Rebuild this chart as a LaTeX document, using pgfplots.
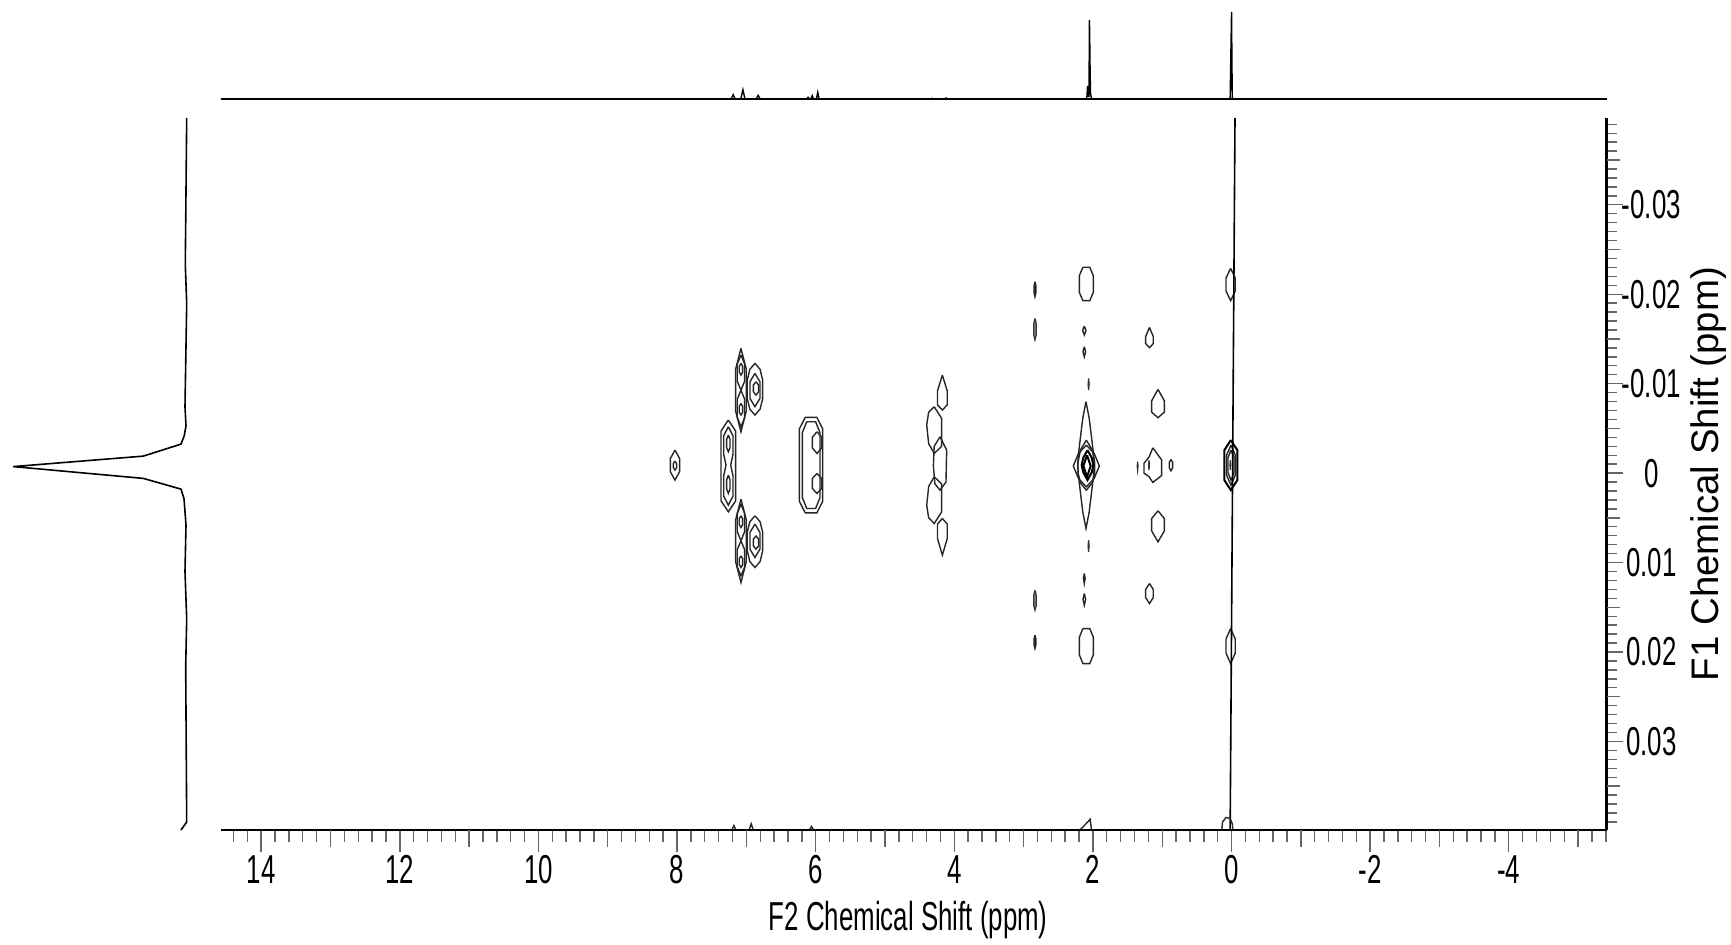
\documentclass[border=0pt]{standalone}
\usepackage{fontspec}
\setmainfont{Liberation Sans}
\newfontfamily\condfont[FakeStretch=0.64]{Liberation Sans}
\usepackage{pgfplots}
\pgfplotsset{compat=1.18}
\pgfplotsset{cont/.style={black!85, line width=0.35pt, mark=none},
  contb/.style={black, line width=0.5pt, mark=none},
  contf/.style={black!80, fill=black!45, line width=0.3pt, mark=none}}
\begin{document}
\begin{tikzpicture}
\path[use as bounding box] (0,0) rectangle (432.75pt,236pt);

% ---------------- main 2D contour data ----------------
\begin{axis}[at={(228.4375pt,117.5pt)}, anchor=center, scale only axis,
  width=346.375pt, height=178pt,
  xmin=-5.41, xmax=14.58, ymin=-0.0397, ymax=0.0399,
  x dir=reverse, y dir=reverse, hide axis, no markers]
% 8.03 ppm
\addplot[cont] coordinates {(8.030,-0.00257) (8.097,-0.00163) (8.097,-0.00016) (8.030,0.00078) (7.963,-0.00016) (7.963,-0.00163) (8.030,-0.00257)};
\addplot[cont] coordinates {(8.030,-0.00134) (8.054,-0.00106) (8.054,-0.00062) (8.030,-0.00034) (8.006,-0.00062) (8.006,-0.00106) (8.030,-0.00134)};
% 7.08 ppm upper
\addplot[cont] coordinates {(7.078,-0.01395) (7.155,-0.01161) (7.155,-0.00695) (7.078,-0.00462) (7.001,-0.00695) (7.001,-0.01161) (7.078,-0.01395)};
\addplot[cont] coordinates {(7.078,-0.01320) (7.131,-0.01222) (7.131,-0.01026) (7.078,-0.00928) (7.025,-0.01026) (7.025,-0.01222) (7.078,-0.01320)};
\addplot[cont] coordinates {(7.078,-0.00928) (7.131,-0.00826) (7.131,-0.00621) (7.078,-0.00518) (7.025,-0.00621) (7.025,-0.00826) (7.078,-0.00928)};
\addplot[cont] coordinates {(7.078,-0.01227) (7.102,-0.01194) (7.102,-0.01129) (7.078,-0.01096) (7.054,-0.01129) (7.054,-0.01194) (7.078,-0.01227)};
\addplot[cont] coordinates {(7.078,-0.00779) (7.102,-0.00747) (7.102,-0.00681) (7.078,-0.00649) (7.054,-0.00681) (7.054,-0.00747) (7.078,-0.00779)};
% 7.08 ppm lower
\addplot[cont] coordinates {(7.078,0.00291) (7.155,0.00524) (7.155,0.00990) (7.078,0.01223) (7.001,0.00990) (7.001,0.00524) (7.078,0.00291)};
\addplot[cont] coordinates {(7.078,0.00347) (7.131,0.00449) (7.131,0.00654) (7.078,0.00757) (7.025,0.00654) (7.025,0.00449) (7.078,0.00347)};
\addplot[cont] coordinates {(7.078,0.00757) (7.131,0.00855) (7.131,0.01050) (7.078,0.01148) (7.025,0.01050) (7.025,0.00855) (7.078,0.00757)};
\addplot[cont] coordinates {(7.078,0.00477) (7.102,0.00510) (7.102,0.00575) (7.078,0.00608) (7.054,0.00575) (7.054,0.00510) (7.078,0.00477)};
\addplot[cont] coordinates {(7.078,0.00925) (7.102,0.00957) (7.102,0.01023) (7.078,0.01055) (7.054,0.01023) (7.054,0.00957) (7.078,0.00925)};
% 6.88 ppm upper
\addplot[cont] coordinates {(6.876,-0.01227) (6.950,-0.01160) (6.987,-0.01040) (6.987,-0.00830) (6.950,-0.00715) (6.876,-0.00649) (6.802,-0.00715) (6.765,-0.00830) (6.765,-0.01040) (6.802,-0.01160) (6.876,-0.01227)};
\addplot[cont] coordinates {(6.876,-0.01115) (6.948,-0.01022) (6.948,-0.00835) (6.876,-0.00742) (6.804,-0.00835) (6.804,-0.01022) (6.876,-0.01115)};
\addplot[cont] coordinates {(6.861,-0.01022) (6.899,-0.00984) (6.899,-0.00910) (6.861,-0.00873) (6.823,-0.00910) (6.823,-0.00984) (6.861,-0.01022)};
% 6.88 ppm lower
\addplot[cont] coordinates {(6.876,0.00477) (6.950,0.00544) (6.987,0.00659) (6.987,0.00869) (6.950,0.00989) (6.876,0.01055) (6.802,0.00989) (6.765,0.00869) (6.765,0.00659) (6.802,0.00544) (6.876,0.00477)};
\addplot[cont] coordinates {(6.876,0.00570) (6.948,0.00664) (6.948,0.00850) (6.876,0.00943) (6.804,0.00850) (6.804,0.00664) (6.876,0.00570)};
\addplot[cont] coordinates {(6.861,0.00701) (6.899,0.00738) (6.899,0.00813) (6.861,0.00850) (6.823,0.00813) (6.823,0.00738) (6.861,0.00701)};
% 7.26 ppm capsule
\addplot[cont] coordinates {(7.260,-0.00593) (7.366,-0.00470) (7.366,0.00310) (7.260,0.00433) (7.154,0.00310) (7.154,-0.00470) (7.260,-0.00593)};
\addplot[cont] coordinates {(7.260,-0.00518) (7.327,-0.00418) (7.327,-0.00210) (7.294,-0.00090) (7.327,0.00031) (7.327,0.00258) (7.260,0.00358) (7.193,0.00258) (7.193,0.00031) (7.226,-0.00090) (7.193,-0.00210) (7.193,-0.00418) (7.260,-0.00518)};
\addplot[cont] coordinates {(7.260,-0.00425) (7.284,-0.00379) (7.284,-0.00285) (7.260,-0.00239) (7.236,-0.00285) (7.236,-0.00379) (7.260,-0.00425)};
\addplot[cont] coordinates {(7.260,0.00022) (7.284,0.00074) (7.284,0.00176) (7.260,0.00227) (7.236,0.00176) (7.236,0.00074) (7.260,0.00022)};
% 6.07 ppm capsule
\addplot[cont] coordinates {(6.151,-0.00623) (5.983,-0.00623) (5.899,-0.00495) (5.899,0.00316) (5.983,0.00444) (6.151,0.00444) (6.235,0.00316) (6.235,-0.00495) (6.151,-0.00623)};
\addplot[cont] coordinates {(6.129,-0.00574) (6.001,-0.00574) (5.938,-0.00454) (5.938,0.00275) (6.001,0.00395) (6.129,0.00395) (6.192,0.00275) (6.192,-0.00454) (6.129,-0.00574)};
\addplot[cont] coordinates {(5.981,-0.00462) (5.914,-0.00402) (5.914,-0.00281) (5.981,-0.00220) (6.048,-0.00281) (6.048,-0.00402) (5.981,-0.00462)};
\addplot[cont] coordinates {(5.981,0.00004) (5.914,0.00060) (5.914,0.00172) (5.981,0.00227) (6.048,0.00172) (6.048,0.00060) (5.981,0.00004)};
% 4.2 ppm chain
\addplot[cont] coordinates {(4.172,-0.01096) (4.102,-0.00920) (4.102,-0.00763) (4.172,-0.00705) (4.242,-0.00763) (4.242,-0.00920) (4.172,-0.01096)};
\addplot[cont] coordinates {(4.290,-0.00742) (4.370,-0.00680) (4.398,-0.00540) (4.370,-0.00330) (4.290,-0.00220) (4.182,-0.00300) (4.182,-0.00612) (4.290,-0.00742)};
\addplot[cont] coordinates {(4.206,-0.00406) (4.290,-0.00300) (4.302,-0.00080) (4.280,0.00120) (4.206,0.00190) (4.120,0.00100) (4.110,-0.00257) (4.206,-0.00406)};
\addplot[cont] coordinates {(4.290,0.00041) (4.370,0.00150) (4.398,0.00360) (4.370,0.00500) (4.290,0.00563) (4.182,0.00433) (4.182,0.00121) (4.290,0.00041)};
\addplot[cont] coordinates {(4.172,0.00507) (4.102,0.00569) (4.102,0.00733) (4.172,0.00917) (4.242,0.00733) (4.242,0.00569) (4.172,0.00507)};
% 2.84 ppm dashes
\addplot[cont] coordinates {(2.836,-0.02140) (2.848,-0.02098) (2.848,-0.02014) (2.836,-0.01972) (2.824,-0.02014) (2.824,-0.02098) (2.836,-0.02140)};
\addplot[contf] coordinates {(2.836,-0.01730) (2.855,-0.01669) (2.855,-0.01548) (2.836,-0.01488) (2.817,-0.01548) (2.817,-0.01669) (2.836,-0.01730)};
\addplot[contf] coordinates {(2.836,0.01309) (2.855,0.01365) (2.855,0.01477) (2.836,0.01533) (2.817,0.01477) (2.817,0.01365) (2.836,0.01309)};
\addplot[cont] coordinates {(2.836,0.01812) (2.848,0.01849) (2.848,0.01924) (2.836,0.01961) (2.824,0.01924) (2.824,0.01849) (2.836,0.01812)};
% 2.1 ppm column
\addplot[cont] coordinates {(2.145,-0.02301) (2.045,-0.02301) (1.994,-0.02207) (1.994,-0.02021) (2.045,-0.01928) (2.145,-0.01928) (2.196,-0.02021) (2.196,-0.02207) (2.145,-0.02301)};
\addplot[cont] coordinates {(2.124,-0.01644) (2.148,-0.01594) (2.124,-0.01544) (2.100,-0.01594) (2.124,-0.01644)};
\addplot[cont] coordinates {(2.124,-0.01413) (2.143,-0.01357) (2.124,-0.01301) (2.105,-0.01357) (2.124,-0.01413)};
\addplot[contf] coordinates {(2.062,-0.01059) (2.070,-0.00994) (2.062,-0.00928) (2.054,-0.00994) (2.062,-0.01059)};
\addplot[cont] coordinates {(2.100,-0.00798) (2.145,-0.00620) (2.180,-0.00400) (2.210,-0.00200) (2.220,-0.00090) (2.210,0.00020) (2.180,0.00220) (2.145,0.00440) (2.100,0.00619) (2.055,0.00440) (2.020,0.00220) (1.990,0.00020) (1.980,-0.00090) (1.990,-0.00200) (2.020,-0.00400) (2.055,-0.00620) (2.100,-0.00798)};
\addplot[cont] coordinates {(2.095,-0.00313) (2.208,-0.00220) (2.283,-0.00080) (2.208,0.00060) (2.095,0.00153) (1.982,0.00060) (1.907,-0.00080) (1.982,-0.00220) (2.095,-0.00313)};
\addplot[cont] coordinates {(2.095,-0.00369) (2.180,-0.00260) (2.215,-0.00120) (2.215,0.00000) (2.180,0.00110) (2.095,0.00190) (2.010,0.00110) (1.975,0.00000) (1.975,-0.00120) (2.010,-0.00260) (2.095,-0.00369)};
\addplot[contb] coordinates {(2.078,-0.00257) (2.140,-0.00170) (2.162,-0.00090) (2.140,-0.00010) (2.078,0.00078) (2.016,-0.00010) (1.994,-0.00090) (2.016,-0.00170) (2.078,-0.00257)};
\addplot[contb] coordinates {(2.085,-0.00201) (2.138,-0.00080) (2.085,0.00041) (2.032,-0.00080) (2.085,-0.00201)};
\addplot[contf] coordinates {(2.062,0.00749) (2.070,0.00815) (2.062,0.00880) (2.054,0.00815) (2.062,0.00749)};
\addplot[cont] coordinates {(2.124,0.01122) (2.136,0.01178) (2.124,0.01234) (2.112,0.01178) (2.124,0.01122)};
\addplot[cont] coordinates {(2.124,0.01346) (2.143,0.01411) (2.124,0.01477) (2.105,0.01411) (2.124,0.01346)};
\addplot[cont] coordinates {(2.145,0.01738) (2.045,0.01738) (1.994,0.01835) (1.994,0.02031) (2.045,0.02129) (2.145,0.02129) (2.196,0.02031) (2.196,0.01835) (2.145,0.01738)};
% 1.1 ppm column
\addplot[cont] coordinates {(1.184,-0.01629) (1.239,-0.01527) (1.239,-0.01448) (1.184,-0.01402) (1.129,-0.01448) (1.129,-0.01527) (1.184,-0.01629)};
\addplot[cont] coordinates {(1.061,-0.00936) (1.152,-0.00809) (1.152,-0.00682) (1.061,-0.00619) (0.970,-0.00682) (0.970,-0.00809) (1.061,-0.00936)};
\addplot[cont] coordinates {(1.136,-0.00283) (1.190,-0.00180) (1.263,-0.00110) (1.263,0.00000) (1.190,0.00040) (1.136,0.00104) (1.009,0.00027) (1.009,-0.00148) (1.136,-0.00283)};
\addplot[contf] coordinates {(1.191,-0.00145) (1.197,-0.00090) (1.191,-0.00034) (1.185,-0.00090) (1.191,-0.00145)};
\addplot[contf] coordinates {(1.355,-0.00127) (1.361,-0.00080) (1.355,-0.00034) (1.349,-0.00080) (1.355,-0.00127)};
\addplot[cont] coordinates {(0.874,-0.00153) (0.898,-0.00121) (0.898,-0.00058) (0.874,-0.00026) (0.850,-0.00058) (0.850,-0.00121) (0.874,-0.00153)};
\addplot[cont] coordinates {(1.061,0.00421) (1.152,0.00508) (1.152,0.00647) (1.061,0.00768) (0.970,0.00647) (0.970,0.00508) (1.061,0.00421)};
\addplot[cont] coordinates {(1.184,0.01234) (1.239,0.01301) (1.239,0.01391) (1.184,0.01458) (1.129,0.01391) (1.129,0.01301) (1.184,0.01234)};
% 0 ppm column
\addplot[cont] coordinates {(0.013,-0.02289) (0.080,-0.02181) (0.080,-0.02036) (0.013,-0.01928) (-0.054,-0.02036) (-0.054,-0.02181) (0.013,-0.02289)};
\addplot[contb] coordinates {(0.010,-0.00369) (0.104,-0.00257) (0.104,0.00078) (0.010,0.00190) (-0.084,0.00078) (-0.084,-0.00257) (0.010,-0.00369)};
\addplot[cont] coordinates {(0.008,-0.00313) (0.071,-0.00201) (0.071,0.00022) (0.008,0.00134) (-0.055,0.00022) (-0.055,-0.00201) (0.008,-0.00313)};
\addplot[cont] coordinates {(0.008,-0.00257) (0.051,-0.00173) (0.051,-0.00006) (0.008,0.00078) (-0.035,-0.00006) (-0.035,-0.00173) (0.008,-0.00257)};
\addplot[contf] coordinates {(0.017,-0.00145) (0.023,-0.00090) (0.017,-0.00034) (0.011,-0.00090) (0.017,-0.00145)};
\addplot[cont] coordinates {(0.013,0.01738) (0.080,0.01855) (0.080,0.02012) (0.013,0.02129) (-0.054,0.02012) (-0.054,0.01855) (0.013,0.01738)};
% t1 ridge at 0 ppm
\addplot[black, line width=0.4pt] coordinates {(-0.050,-0.0397) (0.020,0.0399)};
% contours cut by the lower edge
\addplot[cont] coordinates {(7.21,0.0399) (7.18,0.0394) (7.15,0.0399)};
\addplot[cont] coordinates {(6.96,0.0399) (6.93,0.0392) (6.90,0.0399)};
\addplot[cont] coordinates {(6.09,0.0399) (6.06,0.0395) (6.03,0.0399)};
\addplot[cont] coordinates {(2.19,0.0399) (2.10,0.0392) (2.04,0.0387) (2.02,0.0399)};
\addplot[cont] coordinates {(0.14,0.0399) (0.13,0.0390) (0.08,0.0385) (0.02,0.0386) (-0.01,0.0392) (-0.02,0.0399)};
\end{axis}

% ---------------- x axis (F2) ----------------
\begin{axis}[at={(228.4375pt,117.5pt)}, anchor=center, scale only axis,
  width=346.375pt, height=178pt,
  xmin=-5.41, xmax=14.58, ymin=0, ymax=1, x dir=reverse,
  axis y line=none, axis x line=bottom,
  axis line style={-, black, line width=0.6pt},
  tick align=outside, major tick length=5.5pt, minor tick length=3pt,
  tick style={black!60, line width=0.35pt},
  xtick={-4,-2,0,2,4,6,8,10,12,14},
  xticklabels={-4,-2,0,2,4,6,8,10,12,14},
  minor xtick={-5.4,-5.2,...,14.4},
  extra x ticks={-5,-3,-1,1,3,5,7,9,11,13},
  extra x tick labels={},
  extra x tick style={major tick length=4.25pt},
  xticklabel style={font=\condfont\fontsize{10.1}{12}\selectfont, anchor=north, inner sep=0pt, yshift=-0.6pt},
  xlabel={F2 Chemical Shift (ppm)},
  xlabel style={at={(axis description cs:0.496,-0.1264)}, anchor=center, font=\condfont\fontsize{10.1}{12}\selectfont}]
\end{axis}

% ---------------- y axis (F1) ----------------
\begin{axis}[at={(228.4375pt,117.5pt)}, anchor=center, scale only axis,
  width=346.375pt, height=178pt,
  xmin=0, xmax=1, ymin=-0.0397, ymax=0.0399, y dir=reverse,
  axis x line=none, axis y line=right, scaled y ticks=false,
  axis line style={-, black, line width=0.6pt},
  tick align=outside, major tick length=4pt, minor tick length=2.5pt,
  tick style={black!60, line width=0.35pt},
  ytick={-0.03,-0.02,-0.01,0,0.01,0.02,0.03},
  yticklabels={-0.03,-0.02,-0.01,0,0.01,0.02,0.03},
  minor ytick={-0.039,-0.038,...,0.039},
  extra y ticks={-0.035,-0.025,-0.015,-0.005,0.005,0.015,0.025,0.035},
  extra y tick labels={},
  extra y tick style={major tick length=3.25pt},
  yticklabel style={font=\condfont\fontsize{10.1}{12}\selectfont, anchor=center, inner sep=0pt, xshift=7.2pt},
  ylabel={F1 Chemical Shift (ppm)},
  ylabel style={at={(axis description cs:1.0739,0.5)}, anchor=center, font=\fontsize{9.6}{11.5}\selectfont}]
\end{axis}

% ---------------- top projection ----------------
\begin{axis}[at={(228.4375pt,223.625pt)}, anchor=center, scale only axis,
  width=346.375pt, height=24.75pt,
  xmin=-5.41, xmax=14.58, ymin=0, ymax=99, x dir=reverse, hide axis, clip=false]
\addplot[black, line width=0.35pt, mark=none] coordinates {(14.58,0) (7.22,0) (7.19,4.3) (7.16,0) (7.08,0) (7.05,9.3) (7.02,0) (6.86,0) (6.83,3.6) (6.80,0) (6.13,0) (6.11,1.7) (6.09,0) (6.07,0) (6.05,3.3) (6.03,0) (5.99,0) (5.97,6.6) (5.95,0) (4.34,0) (4.32,0.7) (4.30,0) (4.14,0) (4.12,1.0) (4.10,0) (2.10,0) (2.085,3) (2.078,13) (2.072,2) (2.064,10) (2.057,2) (2.050,79) (2.045,54) (2.040,25) (2.034,5) (2.02,0) (0.02,0) (0.0,87) (-0.01,2) (-0.02,0) (-5.41,0)};
\addplot[black, line width=0.7pt, mark=none] coordinates {(14.58,0) (-5.41,0)};
\end{axis}

% ---------------- left projection ----------------
\begin{axis}[at={(25pt,117.5pt)}, anchor=center, scale only axis,
  width=50pt, height=178pt,
  xmin=0, xmax=200, x dir=reverse, ymin=-0.0397, ymax=0.0399, y dir=reverse,
  hide axis, clip=false]
\addplot[black, line width=0.4pt, mark=none] coordinates {(13.3,-0.0397) (14.7,-0.0233) (13.3,-0.0190) (15.0,-0.0074) (14.0,-0.0053) (15.7,-0.0042) (19.0,-0.00324) (56.7,-0.0019) (186.7,-0.00073) (56.7,0.00059) (19.0,0.00179) (16.0,0.00286) (14.0,0.0058) (15.0,0.0110) (13.3,0.0163) (14.3,0.0216) (13.3,0.0390) (19.0,0.0399)};
\end{axis}
\end{tikzpicture}
\end{document}
